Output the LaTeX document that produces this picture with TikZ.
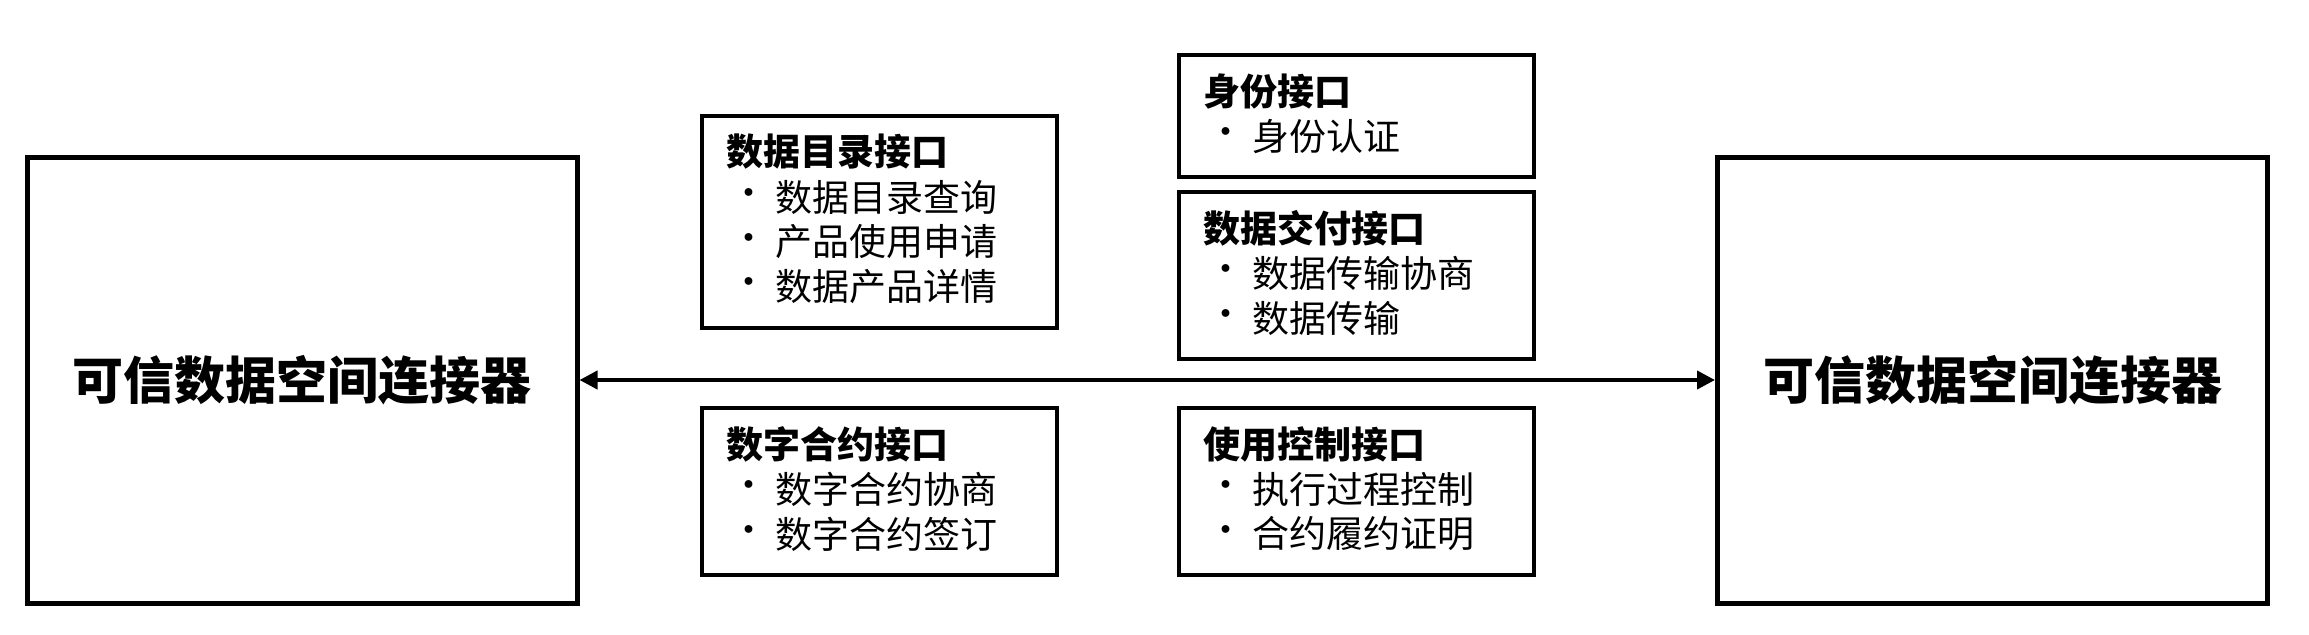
\documentclass[tikz,border=0pt]{standalone}
\usepackage{fontspec}
\setmainfont{Noto Sans CJK SC}
\usetikzlibrary{arrows.meta}
\begin{document}
\begin{tikzpicture}[x=0.5pt,y=-0.5pt,
  bigbox/.style={draw,line width=2.5pt,minimum width=275pt,minimum height=223pt,inner sep=0pt,font=\fontsize{25.5}{30}\selectfont\bfseries},
  ibox/.style={draw,line width=2pt,anchor=north west,minimum width=177.5pt,inner sep=0pt},
  ttl/.style={anchor=west,inner sep=0pt,font=\fontsize{18.5}{22}\selectfont\bfseries},
  itm/.style={anchor=west,inner sep=0pt,font=\fontsize{18.5}{22}\selectfont}]
\useasboundingbox (0,0) rectangle (2309,634);
\node[bigbox] (L) at (302,380) {可信数据空间连接器};
\node[bigbox] (R) at (1992.5,380) {可信数据空间连接器};
\draw[line width=2pt,{Triangle[length=9pt,width=9pt]}-{Triangle[length=9pt,width=9pt]}] (L.east) -- (R.west);
% boxes
\newcommand\ifacebox[6]{%
  \node[ibox,minimum height=#4*0.5pt] (#1) at (#2,#3) {};
  \node[ttl] (#1t) at (#2+26,#3+38) {#5};
  \foreach \s [count=\i] in {#6} {
    \node[itm] (#1b\i) at (#2+30,#3+39+\i*44.5) {•};
    \node[itm] (#1i\i) at (#2+75,#3+39+\i*44.5) {\s};
  }}
\ifacebox{A}{700}{114}{212}{数据目录接口}{数据目录查询,产品使用申请,数据产品详情}
\ifacebox{B}{700}{406}{167}{数字合约接口}{数字合约协商,数字合约签订}
\ifacebox{C}{1177}{53}{122}{身份接口}{身份认证}
\ifacebox{D}{1177}{190}{167}{数据交付接口}{数据传输协商,数据传输}
\ifacebox{E}{1177}{406}{167}{使用控制接口}{执行过程控制,合约履约证明}
\end{tikzpicture}
\end{document}
